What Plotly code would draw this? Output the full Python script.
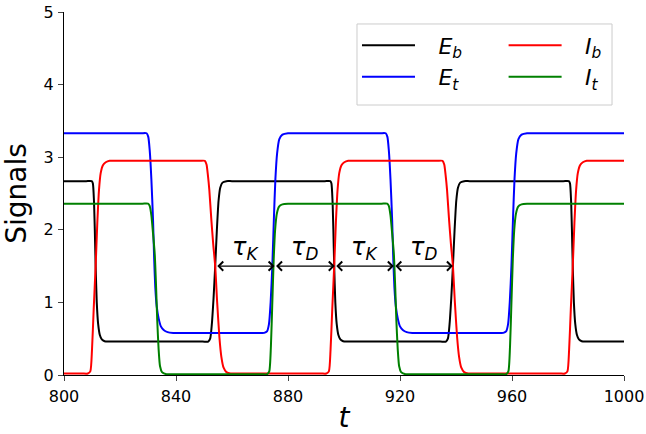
import plotly.graph_objects as go

# ---- data ----
t_Eb = [800, 807.9, 809.9, 810.3, 810.7, 811.0, 811.3, 811.7, 812.2, 812.8, 813.5, 814.5, 815.8, 817.8,
        849.5, 851.5, 852.2, 852.8, 853.4, 854.0, 854.6, 855.2, 855.8, 856.6, 858.0, 860.0,
        893.1, 895.1, 895.5, 895.9, 896.2, 896.5, 896.9, 897.4, 898.0, 898.7, 899.7, 901.0, 903.0,
        934.4, 936.4, 937.1, 937.7, 938.3, 938.9, 939.5, 940.1, 940.7, 941.5, 942.9, 944.9,
        978.3, 980.3, 980.7, 981.1, 981.4, 981.7, 982.1, 982.6, 983.2, 983.9, 984.9, 986.2, 988.2, 1000]
v_Eb = [2.67, 2.67, 2.67, 2.64, 2.4, 2.0, 1.5, 1.0, 0.7, 0.55, 0.49, 0.465, 0.46, 0.46,
        0.46, 0.46, 0.5, 0.7, 1.05, 1.5, 2.0, 2.4, 2.58, 2.65, 2.67, 2.67,
        2.67, 2.67, 2.64, 2.4, 2.0, 1.5, 1.0, 0.7, 0.55, 0.49, 0.465, 0.46, 0.46,
        0.46, 0.46, 0.5, 0.7, 1.05, 1.5, 2.0, 2.4, 2.58, 2.65, 2.67, 2.67,
        2.67, 2.67, 2.64, 2.4, 2.0, 1.5, 1.0, 0.7, 0.55, 0.49, 0.465, 0.46, 0.46, 0.46]

t_Et = [800, 827.5, 829.5, 830.1, 830.6, 831.2, 831.8, 832.2, 832.6, 833.1, 833.8, 834.6, 835.6, 837.0, 839.0, 841.0,
        869.5, 871.5, 872.5, 873.2, 873.8, 874.4, 875.0, 875.5, 876.1, 876.9, 878.0, 880.0, 882.0,
        912.9, 914.9, 915.5, 916.0, 916.6, 917.2, 917.6, 918.0, 918.5, 919.2, 920.0, 921.0, 922.4, 924.4, 926.4,
        954.9, 956.9, 957.9, 958.6, 959.2, 959.8, 960.4, 960.9, 961.5, 962.3, 963.4, 965.4, 967.4, 1000]
v_Et = [3.33, 3.33, 3.33, 3.28, 3.1, 2.7, 2.13, 1.6, 1.21, 0.95, 0.78, 0.67, 0.62, 0.59, 0.58, 0.58,
        0.58, 0.58, 0.6, 0.7, 1.0, 1.5, 2.2, 2.7, 3.05, 3.25, 3.31, 3.33, 3.33,
        3.33, 3.33, 3.28, 3.1, 2.7, 2.13, 1.6, 1.21, 0.95, 0.78, 0.67, 0.62, 0.59, 0.58, 0.58,
        0.58, 0.58, 0.6, 0.7, 1.0, 1.5, 2.2, 2.7, 3.05, 3.25, 3.31, 3.33, 3.33, 3.33]

t_Ib = [800, 806.5, 808.5, 809.4, 810.0, 810.6, 811.3, 811.9, 812.5, 813.1, 813.9, 814.9, 816.3, 818.3,
        848.3, 850.3, 850.9, 851.4, 851.9, 852.6, 853.3, 854.0, 854.7, 855.5, 856.2, 857.0, 858.0, 859.5, 861.5,
        891.7, 893.7, 894.6, 895.2, 895.8, 896.5, 897.1, 897.7, 898.3, 899.1, 900.1, 901.5, 903.5,
        933.2, 935.2, 935.8, 936.3, 936.8, 937.5, 938.2, 938.9, 939.6, 940.4, 941.1, 941.9, 942.9, 944.4, 946.4,
        976.9, 978.9, 979.8, 980.4, 981.0, 981.7, 982.3, 982.9, 983.5, 984.3, 985.3, 986.7, 988.7, 1000]
v_Ib = [0.02, 0.02, 0.02, 0.05, 0.35, 0.9, 1.5, 2.1, 2.55, 2.78, 2.89, 2.93, 2.95, 2.95,
        2.95, 2.95, 2.9, 2.75, 2.55, 2.15, 1.8, 1.5, 1.0, 0.52, 0.25, 0.1, 0.04, 0.02, 0.02,
        0.02, 0.02, 0.05, 0.35, 0.9, 1.5, 2.1, 2.55, 2.78, 2.89, 2.93, 2.95, 2.95,
        2.95, 2.95, 2.9, 2.75, 2.55, 2.15, 1.8, 1.5, 1.0, 0.52, 0.25, 0.1, 0.04, 0.02, 0.02,
        0.02, 0.02, 0.05, 0.35, 0.9, 1.5, 2.1, 2.55, 2.78, 2.89, 2.93, 2.95, 2.95, 2.95]

t_It = [800, 828.0, 830.0, 830.6, 831.2, 831.8, 832.4, 832.9, 833.3, 833.8, 834.3, 835.0, 836.6, 838.6,
        870.5, 872.5, 873.3, 873.9, 874.4, 874.9, 875.4, 876.0, 876.8, 878.0, 880.0, 882.0,
        913.4, 915.4, 916.0, 916.6, 917.2, 917.8, 918.3, 918.7, 919.2, 919.7, 920.4, 922.0, 924.0,
        955.9, 957.9, 958.7, 959.3, 959.8, 960.3, 960.8, 961.4, 962.2, 963.4, 965.4, 967.4, 1000]
v_It = [2.36, 2.36, 2.36, 2.33, 2.2, 1.95, 1.67, 1.2, 0.75, 0.35, 0.12, 0.04, 0.01, 0.01,
        0.01, 0.01, 0.05, 0.4, 1.0, 1.6, 2.0, 2.22, 2.32, 2.35, 2.36, 2.36,
        2.36, 2.36, 2.33, 2.2, 1.95, 1.67, 1.2, 0.75, 0.35, 0.12, 0.04, 0.01, 0.01,
        0.01, 0.01, 0.05, 0.4, 1.0, 1.6, 2.0, 2.22, 2.32, 2.35, 2.36, 2.36, 2.36]

# interval markers (tau_K / tau_D) at level 1.5
tau_edges = [854.2, 875.2, 896.7, 917.8, 938.9]
tau_labels = ["<i>τ</i><sub><i>K</i></sub>", "<i>τ</i><sub><i>D</i></sub>",
              "<i>τ</i><sub><i>K</i></sub>", "<i>τ</i><sub><i>D</i></sub>"]
tau_level = 1.5

x_ticks = [800, 840, 880, 920, 960, 1000]
y_ticks = [0, 1, 2, 3, 4, 5]

FONT = "DejaVu Sans"
PAD = "\u00a0\u00a0\u2009"

fig = go.Figure()
series = [
    (t_Eb, v_Eb, "<i>E</i><sub><i>b</i></sub>", "#000000", "legend", "g1"),
    (t_Et, v_Et, "<i>E</i><sub><i>t</i></sub>", "#0000ff", "legend", "g2"),
    (t_Ib, v_Ib, "<i>I</i><sub><i>b</i></sub>", "#ff0000", "legend2", "g3"),
    (t_It, v_It, "<i>I</i><sub><i>t</i></sub>", "#008000", "legend2", "g4"),
]
for tx, vy, name, col, leg, grp in series:
    fig.add_trace(go.Scatter(x=tx, y=vy, mode="lines", name=PAD + name,
                             line=dict(color=col, width=2, shape="spline", smoothing=0.6),
                             legend=leg, legendgroup=grp))

for i, lab in enumerate(tau_labels):
    a, b = tau_edges[i], tau_edges[i + 1]
    fig.add_annotation(x=b, y=tau_level, ax=a, ay=tau_level, xref="x", yref="y",
                       axref="x", ayref="y", text="", showarrow=True,
                       arrowhead=4, startarrowhead=4, arrowside="end+start",
                       arrowsize=1.6, startarrowsize=1.6, arrowwidth=1.1,
                       arrowcolor="black", standoff=0, startstandoff=0)
    fig.add_annotation(x=(a + b) / 2, y=tau_level + 0.0, xref="x", yref="y",
                       text=lab, showarrow=False, yanchor="bottom",
                       font=dict(family=FONT, size=24, color="black"))

# legend frame (paper coordinates)
fig.add_shape(type="rect", xref="paper", yref="paper",
              x0=0.5232, x1=0.9786, y0=0.7438, y1=0.967,
              line=dict(color="#cccccc", width=1), fillcolor="rgba(255,255,255,0.8)",
              layer="above")

leg_common = dict(orientation="v", xanchor="left", yanchor="top",
                  font=dict(family=FONT, size=22, color="black"),
                  bgcolor="rgba(0,0,0,0)", borderwidth=0, tracegroupgap=0,
                  itemwidth=53)

fig.update_layout(
    width=646, height=434,
    margin=dict(l=64, r=22, t=12, b=59, autoexpand=False),
    paper_bgcolor="white", plot_bgcolor="white",
    font=dict(family=FONT, size=16, color="black"),
    showlegend=True,
    legend=dict(x=0.5232, y=0.966, **leg_common),
    legend2=dict(x=0.785, y=0.966, **leg_common),
    xaxis=dict(range=[800, 1000], tickvals=x_ticks, ticks="outside", ticklen=5,
               tickwidth=1, showline=True, linecolor="black", linewidth=1,
               showgrid=False, zeroline=False, ticklabelstandoff=2,
               title=dict(text="<i>t</i>", font=dict(family=FONT, size=28), standoff=10)),
    yaxis=dict(range=[0, 5], tickvals=y_ticks, ticks="outside", ticklen=5,
               tickwidth=1, showline=True, linecolor="black", linewidth=1,
               showgrid=False, zeroline=False, ticklabelstandoff=1,
               title=dict(text="Signals", font=dict(family=FONT, size=28), standoff=19)),
)

fig.write_html("out.html", config={"displayModeBar": False},
               post_script="document.body.style.margin='0px';document.body.style.padding='0px';")
